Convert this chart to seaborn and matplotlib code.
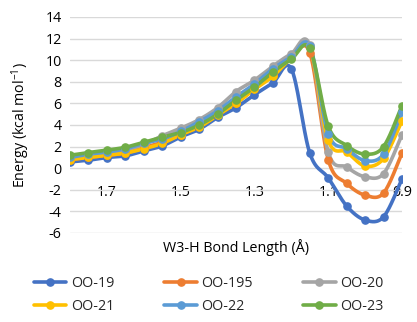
import numpy as np
import pandas as pd
import matplotlib
matplotlib.use("Agg")
import matplotlib.pyplot as plt
import seaborn as sns
from matplotlib.lines import Line2D

bond_length = [1.80, 1.75, 1.70, 1.65, 1.60, 1.55, 1.50, 1.45, 1.40, 1.35,
               1.30, 1.25, 1.20, 1.15, 1.10, 1.05, 1.00, 0.95, 0.90]

oo_19 = [0.58, 0.74, 0.99, 1.14, 1.6, 2.06, 2.9, 3.6, 4.7, 5.6,
         6.8, 7.9, 9.2, 1.4, -0.9, -3.5, -4.8, -4.5, -1.0]
oo_195 = [0.8, 1.0, 1.2, 1.4, 1.9, 2.4, 3.1, 3.9, 5.0, 6.0,
          7.4, 8.6, 10.2, 10.7, 0.8, -1.4, -2.5, -2.3, 1.4]
oo_20 = [1.0, 1.2, 1.4, 1.7, 2.2, 3.0, 3.7, 4.5, 5.6, 7.1,
         8.15, 9.45, 10.6, 11.4, 1.5, 0.1, -0.8, -0.5, 3.1]
oo_21 = [0.8, 1.0, 1.2, 1.4, 1.8, 2.3, 3.1, 3.8, 4.9, 6.0,
         7.3, 8.5, 10.2, 11.2, 2.6, 1.5, 0.2, 0.9, 4.4]
oo_22 = [1.0, 1.3, 1.5, 1.8, 2.3, 2.7, 3.4, 4.3, 5.3, 6.6,
         7.8, 9.2, 10.3, 11.3, 3.2, 1.8, 0.7, 1.3, 5.2]
oo_23 = [1.2, 1.45, 1.67, 1.94, 2.4, 2.87, 3.3, 4.0, 5.0, 6.3,
         7.5, 8.9, 10.1, 11.1, 3.9, 2.1, 1.3, 2.0, 5.8]

series_names = ["OO-19", "OO-195", "OO-20", "OO-21", "OO-22", "OO-23"]
series_values = [oo_19, oo_195, oo_20, oo_21, oo_22, oo_23]
colors = ["#4472C4", "#ED7D31", "#A5A5A5", "#FFC000", "#5B9BD5", "#70AD47"]

x_ticks = [1.7, 1.5, 1.3, 1.1, 0.9]
y_ticks = [-6, -4, -2, 0, 2, 4, 6, 8, 10, 12, 14]


def excel_smooth(xs, ys, n=30):
    """Bezier smoothing similar to Excel's smoothed line."""
    P = np.column_stack([xs, ys]).astype(float)
    out = [P[0]]
    m = len(P)
    for i in range(m - 1):
        p0 = P[i - 1] if i > 0 else P[i]
        p1 = P[i]
        p2 = P[i + 1]
        p3 = P[i + 2] if i + 2 < m else P[i + 1]
        c1 = p1 + (p2 - p0) / 6.0
        c2 = p2 - (p3 - p1) / 6.0
        t = np.linspace(0, 1, n)[1:, None]
        seg = ((1 - t) ** 3) * p1 + 3 * ((1 - t) ** 2) * t * c1 + 3 * (1 - t) * t ** 2 * c2 + t ** 3 * p2
        out.extend(seg)
    out = np.array(out)
    return out[:, 0], out[:, 1]


sns.set_theme(style="white")
plt.rcParams["font.family"] = ["Open Sans", "DejaVu Sans"]
plt.rcParams["mathtext.fontset"] = "custom"
plt.rcParams["mathtext.rm"] = "Open Sans"
plt.rcParams["mathtext.it"] = "Open Sans"

FS = 10.3

fig = plt.figure(figsize=(4.17, 3.22), dpi=100)
ax = fig.add_axes([70 / 417, 1 - 233 / 322, 332 / 417, 216 / 322])

frames = []
for name, vals in zip(series_names, series_values):
    frames.append(pd.DataFrame({"x": bond_length, "y": vals, "series": name}))
df = pd.concat(frames, ignore_index=True)

for name, col in zip(series_names, colors):
    sub = df[df["series"] == name]
    sx, sy = excel_smooth(sub["x"].values, sub["y"].values)
    sm = pd.DataFrame({"x": sx, "y": sy})
    sns.lineplot(data=sm, x="x", y="y", sort=False, estimator=None, ax=ax,
                 color=col, linewidth=2.6, zorder=3)
    ax.plot(sub["x"], sub["y"], linestyle="none", marker="o", markersize=5.2,
            color=col, zorder=4)

ax.set_xlim(1.8, 0.9)
ax.set_ylim(-6, 14)
ax.set_yticks(y_ticks)
ax.set_xticks(x_ticks)
ax.set_xticklabels([f"{v:.1f}" for v in x_ticks])
ax.set_yticklabels([str(v) for v in y_ticks])
ax.yaxis.grid(True, color="#D9D9D9", linewidth=1.0)
ax.xaxis.grid(False)
ax.set_axisbelow(True)
for s in ["top", "right", "left"]:
    ax.spines[s].set_visible(False)
ax.spines["bottom"].set_position(("data", 0))
ax.spines["bottom"].set_visible(False)
ax.tick_params(axis="x", length=0, pad=12, labelsize=FS, colors="#000000")
ax.tick_params(axis="y", length=0, pad=6, labelsize=FS, colors="#000000")

ax.set_xlabel("W3-H Bond Length (Å)", fontsize=FS, color="#000000")
ax.xaxis.set_label_coords(0.5, -0.03)
ax.set_ylabel("Energy (kcal mol$^{-1}$)", fontsize=FS, color="#000000")
ax.yaxis.set_label_coords(-0.115, 0.5)

handles = [Line2D([0], [0], color=c, linewidth=2.6, marker="o", markersize=5.2)
           for c in colors]
order = [0, 3, 1, 4, 2, 5]
fig.legend([handles[i] for i in order], [series_names[i] for i in order],
           ncol=3, loc="center",
           bbox_to_anchor=(0.5, 1 - 295 / 322), frameon=False, fontsize=FS,
           handlelength=2.3, handletextpad=0.3, columnspacing=3.5,
           labelspacing=0.6)

fig.savefig("out.png", dpi=100)
